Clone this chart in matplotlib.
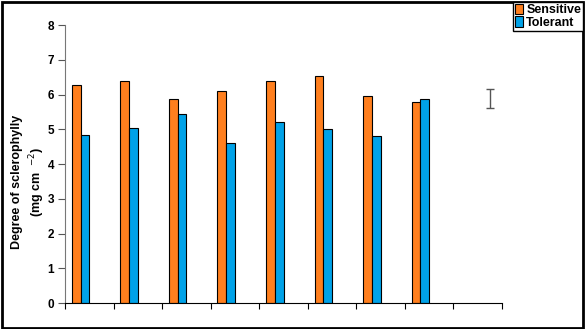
import matplotlib.pyplot as plt
from matplotlib.patches import Rectangle

plt.rcParams["font.family"] = ["Liberation Sans", "DejaVu Sans"]

series_names = ["Sensitive", "Tolerant"]
sensitive = [6.26, 6.40, 5.86, 6.11, 6.40, 6.54, 5.97, 5.79]
tolerant = [4.83, 5.05, 5.43, 4.61, 5.22, 5.01, 4.82, 5.86]
n_slots = 9
lsd_center = 5.885
lsd_half = 0.275
y_ticks = [0, 1, 2, 3, 4, 5, 6, 7, 8]

orange = "#FF7F1E"
blue = "#00A2E8"

fig = plt.figure(figsize=(5.85, 3.29), dpi=100)
ax = fig.add_axes([65 / 585, 26 / 329, 437 / 585, 278 / 329])

idx = list(range(len(sensitive)))
ax.bar([i + 0.14 for i in idx], sensitive, width=0.18, align="edge",
       color=orange, edgecolor="black", linewidth=0.8, label=series_names[0])
ax.bar([i + 0.32 for i in idx], tolerant, width=0.18, align="edge",
       color=blue, edgecolor="black", linewidth=0.8, label=series_names[1])

ax.errorbar([8.75], [lsd_center], yerr=[lsd_half], fmt="none",
            ecolor="#555555", elinewidth=1.0, capsize=3, capthick=1.0)

ax.set_xlim(0, n_slots)
ax.set_ylim(0, 8)
ax.set_yticks(y_ticks)
ax.set_yticklabels([str(t) for t in y_ticks], fontsize=8.5, fontweight="bold")
ax.set_xticks(range(n_slots + 1))
ax.set_xticklabels([])
ax.tick_params(axis="x", direction="out", length=4, width=0.8)
ax.tick_params(axis="y", direction="out", length=5, width=0.8, colors="#555555",
               labelcolor="black", pad=3)

for side in ["top", "right"]:
    ax.spines[side].set_visible(False)
ax.spines["left"].set_color("#777777")
ax.spines["bottom"].set_color("black")

ax.set_ylabel("Degree of sclerophylly\n(mg cm  $^{-2}$)", fontsize=9,
              fontweight="bold", linespacing=1.35)
ax.yaxis.set_label_coords(-0.041, 0.435)

fig.legend(loc="upper right", bbox_to_anchor=(583 / 585, 1 - 2 / 329),
           prop={"weight": "bold", "size": 9}, frameon=True,
           fancybox=False, edgecolor="black", framealpha=1, borderpad=0.15,
           handlelength=0.6, handleheight=0.9, handletextpad=0.3,
           labelspacing=0.0, borderaxespad=0)

fig.patches.append(Rectangle((0.003, 0.004), 0.994, 0.99, transform=fig.transFigure,
                             fill=False, edgecolor="black", linewidth=2))

fig.savefig("out.png", dpi=100)
